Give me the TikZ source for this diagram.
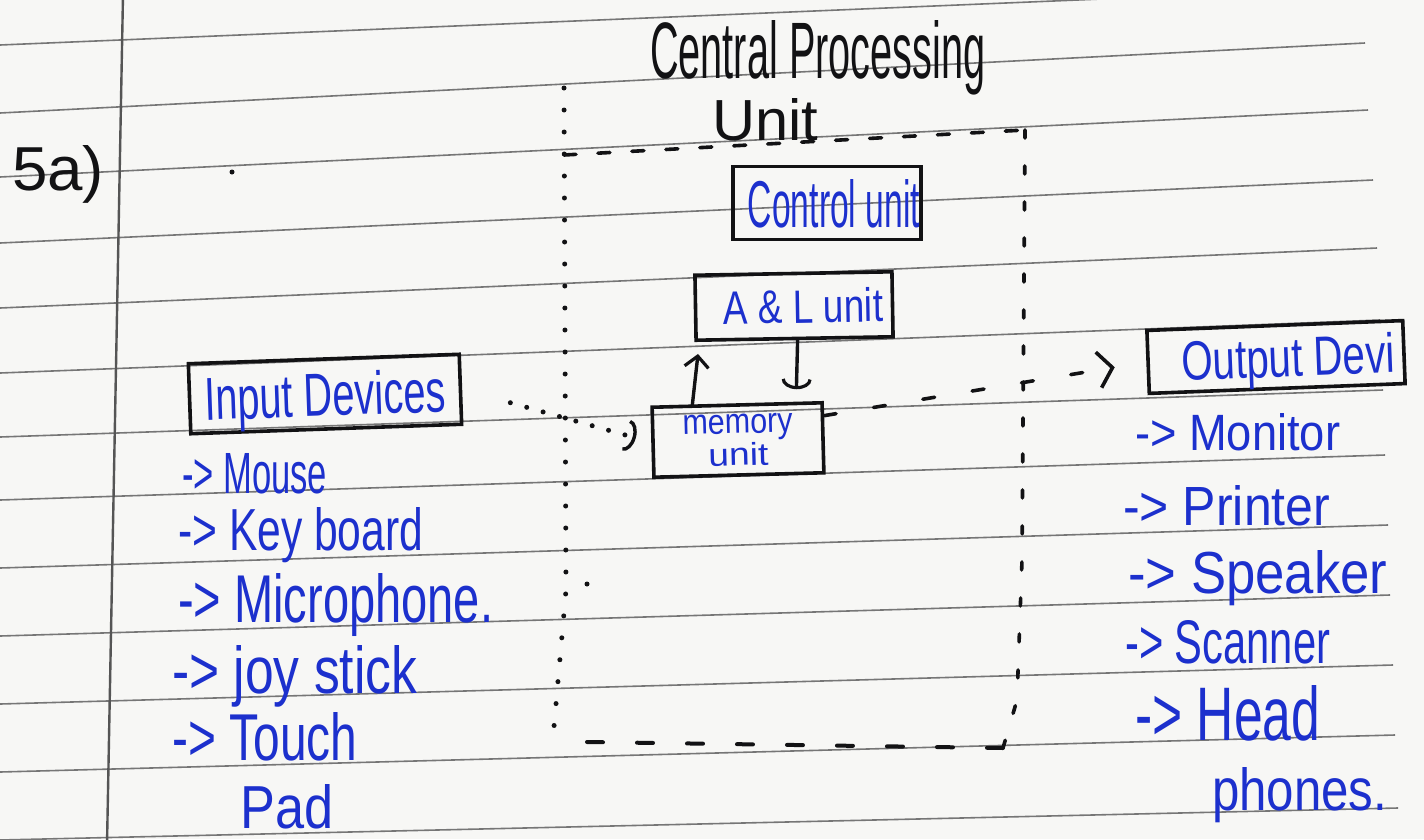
\documentclass[tikz,border=0pt]{standalone}
\usepackage{graphicx}
\usepackage{fontspec}
\setmainfont{Liberation Sans}
\usetikzlibrary{arrows.meta,calc}
\definecolor{paper}{RGB}{247,247,245}
\definecolor{rulec}{RGB}{118,118,118}
\definecolor{marginc}{RGB}{85,85,85}
\definecolor{ink}{RGB}{18,18,20}
\definecolor{bink}{RGB}{28,48,205}
\newcommand{\fitt}[3]{\resizebox{#1pt}{#2pt}{#3}}
\begin{document}
\begin{tikzpicture}[x=1pt,y=-1pt,
  rulel/.style={rulec, line width=1.6pt},
  margl/.style={marginc, line width=2.4pt},
  ttxt/.style={inner sep=0pt, anchor=base west, text=ink},
  ltxt/.style={inner sep=0pt, anchor=base west, text=bink},
  boxn/.style={draw=ink, line width=3.6pt, inner sep=0pt, text=bink, text depth=0pt, align=center},
  dotedge/.style={ink, line width=5pt, line cap=round, dash pattern=on 0pt off 22pt},
  topedge/.style={ink, line width=3.6pt, line cap=round, dash pattern=on 12pt off 22pt},
  rightedge/.style={ink, line width=3.6pt, line cap=round, dash pattern=on 8pt off 28pt},
  botedge/.style={ink, line width=4pt, line cap=round, dash pattern=on 16pt off 34pt},
  dotconn/.style={ink, line width=5pt, line cap=round, dash pattern=on 0pt off 17pt},
  dashconn/.style={ink, line width=3.6pt, line cap=round, dash pattern=on 12pt off 38pt},
  solidconn/.style={ink, line width=3.4pt, line cap=round}
]
\useasboundingbox (0,0) rectangle (1424,839);
\fill[paper] (0,0) rectangle (1424,839);
% ruled paper
\foreach \a/\b/\c in {45/1365/-12, 113/1365/43, 177/1368/110, 243/1373/180, 308/1377/248, 373/1380/320, 437/1383/390, 500/1385/455, 568/1388/525, 636/1390/595, 704/1393/665, 772/1395/735, 840/1398/808}
  \draw[rulel] (0,\a) -- (\b,\c);
\draw[margl] (123,-5) -- (107,845);
\fill[ink] (232,172) circle (2.5);

% question label and CPU title
\node[ttxt] (qlabel) at (12,190) {\fitt{92}{45}{5a)}};
\node[ttxt] (cputitle) at (650,78) {\fitt{335}{58}{Central Processing}};
\node[ttxt] (cputitleb) at (712,140) {\fitt{106}{42}{Unit}};

% CPU boundary
\coordinate (cpuLT) at (564,88);
\coordinate (cpuTL) at (564,155);
\coordinate (cpuTR) at (1025,130);
\coordinate (cpuBR) at (1003,748);
\coordinate (cpuBL) at (553,738);
\draw[dotedge] (cpuLT) -- (566,590) -- (cpuBL);
\draw[topedge] (cpuTL) -- (cpuTR);
\draw[rightedge] (cpuTR) -- (1022,560) -- (1017,700) -- (cpuBR);
\draw[botedge] (587,742) -- (cpuBR);
\fill[ink] (587,584) circle (2.5);

% units inside CPU
\node[boxn, minimum width=188pt, minimum height=73pt] (cu) at (827,203) {\hspace*{14pt}\fitt{172}{48}{Control unit}};
\node[boxn, minimum width=197pt, minimum height=65pt, rotate=1] (alu) at (794,306) {\hspace*{18pt}\fitt{160}{34}{A \& L unit}};
\node[boxn, minimum width=170pt, minimum height=70pt, rotate=1.5] (mem) at (738,440) {\fitt{110}{19}{memory}\\[1pt]\fitt{60}{23}{unit}};

% input / output boxes
\node[boxn, minimum width=271pt, minimum height=70pt, rotate=2] (inp) at (325,394) {\fitt{241}{44}{Input Devices}};
\node[boxn, minimum width=256pt, minimum height=63pt, rotate=2.2] (outp) at (1276,357) {\hspace*{24pt}\fitt{213}{40}{Output Devi}};

% lists
\node[ltxt] (i1) at (182,493) {\fitt{145}{40}{-> Mouse}};
\node[ltxt] (i2) at (178,550) {\fitt{245}{43}{-> Key board}};
\node[ltxt] (i3) at (178,622) {\fitt{315}{49}{-> Microphone.}};
\node[ltxt] (i4) at (172,693) {\fitt{245}{48}{-> joy stick}};
\node[ltxt] (i5) at (172,760) {\fitt{185}{48}{-> Touch}};
\node[ltxt] (i6) at (240,828) {\fitt{93}{44}{Pad}};

\node[ltxt] (o1) at (1135,450) {\fitt{205}{37}{-> Monitor}};
\node[ltxt] (o2) at (1123,525) {\fitt{207}{40}{-> Printer}};
\node[ltxt] (o3) at (1128,593) {\fitt{259}{43}{-> Speaker}};
\node[ltxt] (o4) at (1125,663) {\fitt{205}{43}{-> Scanner}};
\node[ltxt] (o5) at (1135,740) {\fitt{185}{55}{-> Head}};
\node[ltxt] (o6) at (1212,810) {\fitt{175}{43}{phones.}};

% connectors
\draw[dotconn, shorten <=50pt, shorten >=16pt, -{Arc Barb[length=10pt,width=32pt,line width=3.4pt]}] (inp.east) -- (mem.west);
\draw[dashconn, shorten >=32pt, -{Straight Barb[length=14pt,width=36pt,line width=3.6pt]}] ($(mem.north east)!0.2!(mem.south east)$) -- (outp.west);
\draw[solidconn, shorten >=12pt, -{Straight Barb[length=11pt,width=24pt,line width=3.2pt]}] ([xshift=42pt]mem.north west) -- ([xshift=5pt]alu.south west);
\draw[solidconn, shorten >=14pt, -{Arc Barb[length=10pt,width=30pt,line width=3.2pt]}] ([xshift=3pt]alu.south) -- ([xshift=59pt]mem.north);
\end{tikzpicture}
\end{document}
